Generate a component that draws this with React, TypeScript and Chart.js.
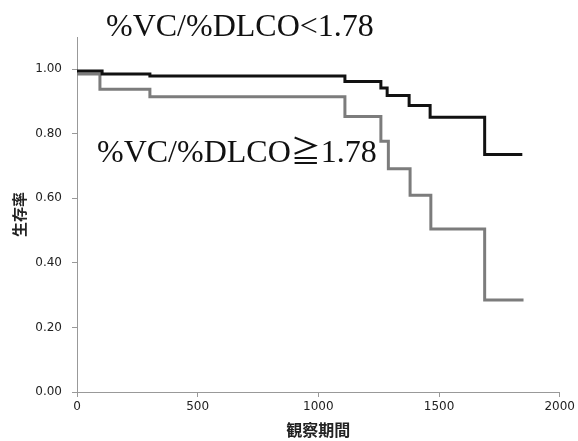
import { useEffect, useRef } from "react";
import { Chart, registerables } from "chart.js";

Chart.register(...registerables);

// Kaplan–Meier survival by %VC/%DLCO group (days of observation)
const lowRatioDays = [0, 104, 302, 1110, 1259, 1285, 1376, 1463, 1689, 1845];
const lowRatioSurvival = [0.995, 0.985, 0.979, 0.962, 0.942, 0.919, 0.888, 0.851, 0.736, 0.736];

const highRatioDays = [0, 95, 302, 1110, 1259, 1290, 1380, 1466, 1689, 1850];
const highRatioSurvival = [0.985, 0.938, 0.915, 0.854, 0.777, 0.692, 0.61, 0.505, 0.285, 0.285];

const xTickValues = [0, 500, 1000, 1500, 2000];
const yTickValues = [0, 0.2, 0.4, 0.6, 0.8, 1.0];

const ratioName = "%VC/%DLCO";
const cutoff = "1.78";
const lowRatioLabel = `${ratioName}<${cutoff}`;
const highRatioLabel = `${ratioName}≧${cutoff}`;
const xTitle = "観察期間";
const yTitle = "生存率";

const toPoints = (xs: number[], ys: number[]) => xs.map((x, i) => ({ x, y: ys[i] }));

const serifFont = '32px "Liberation Serif", "Times New Roman", serif';
const symbolFont = '30px "Noto Sans CJK JP", sans-serif';

// Writes a run of text pieces, each in its own font, starting at x
function drawRun(ctx: CanvasRenderingContext2D, pieces: [string, string][], x: number, y: number) {
  let cx = x;
  for (const [text, font] of pieces) {
    ctx.font = font;
    ctx.fillText(text, cx, y);
    cx += ctx.measureText(text).width;
  }
}

const groupLabels = {
  id: "groupLabels",
  afterDatasetsDraw(chart: any) {
    const ctx = chart.ctx as CanvasRenderingContext2D;
    ctx.save();
    ctx.fillStyle = "#111";
    ctx.textAlign = "left";
    ctx.textBaseline = "alphabetic";
    drawRun(ctx, [[lowRatioLabel, serifFont]], 106, 36);
    drawRun(
      ctx,
      [
        [ratioName, serifFont],
        ["≧", symbolFont],
        [cutoff, serifFont],
      ],
      97,
      162
    );
    ctx.restore();
  },
};

export default function App() {
  const canvasRef = useRef<HTMLCanvasElement | null>(null);

  useEffect(() => {
    if (!canvasRef.current) return;
    const tickFont = { family: '"DejaVu Sans", Verdana, sans-serif', size: 12 };
    const titleFont = { family: '"Noto Sans CJK JP", sans-serif', weight: "bold" as const };

    const chart = new Chart(canvasRef.current, {
      type: "line",
      data: {
        datasets: [
          {
            label: lowRatioLabel,
            data: toPoints(lowRatioDays, lowRatioSurvival),
            borderColor: "#111111",
            borderWidth: 3,
            stepped: "before",
            pointRadius: 0,
            fill: false,
            order: 0,
          },
          {
            label: highRatioLabel,
            data: toPoints(highRatioDays, highRatioSurvival),
            borderColor: "#7c7c7c",
            borderWidth: 3,
            stepped: "before",
            pointRadius: 0,
            fill: false,
            order: 1,
          },
        ],
      },
      options: {
        responsive: false,
        animation: false,
        layout: { padding: { top: 37, right: 17, left: 0, bottom: 0 } },
        plugins: {
          legend: { display: false },
          tooltip: { enabled: false },
        },
        scales: {
          x: {
            type: "linear",
            min: 0,
            max: 2000,
            afterBuildTicks: (s: any) => {
              s.ticks = xTickValues.map((v) => ({ value: v }));
            },
            afterFit: (s: any) => {
              s.height = 49;
            },
            ticks: {
              font: tickFont,
              color: "#222",
              padding: 3,
              maxRotation: 0,
              callback: (v: any) => String(v),
            },
            grid: { drawOnChartArea: false, drawTicks: true, tickLength: 5, color: "#999" },
            border: { display: true, color: "#999", width: 1 },
            title: {
              display: true,
              text: xTitle,
              font: { ...titleFont, size: 16 },
              color: "#222",
              padding: { top: 0, bottom: 1 },
            },
          },
          y: {
            type: "linear",
            min: 0,
            max: 1.1,
            afterBuildTicks: (s: any) => {
              s.ticks = yTickValues.map((v) => ({ value: v }));
            },
            afterFit: (s: any) => {
              s.width = 77;
            },
            ticks: {
              font: tickFont,
              color: "#222",
              padding: 10,
              callback: (v: any) => Number(v).toFixed(2),
            },
            grid: { drawOnChartArea: false, drawTicks: true, tickLength: 5, color: "#999" },
            border: { display: true, color: "#999", width: 1 },
            title: {
              display: true,
              text: yTitle,
              font: { ...titleFont, size: 15 },
              color: "#222",
              padding: { top: 10, bottom: 0 },
            },
          },
        },
      },
      plugins: [groupLabels],
    });

    return () => chart.destroy();
  }, []);

  return (
    <div style={{ position: "absolute", left: 0, top: 0, width: 578, height: 441, background: "#fff" }}>
      <canvas ref={canvasRef} width={578} height={441} />
    </div>
  );
}
